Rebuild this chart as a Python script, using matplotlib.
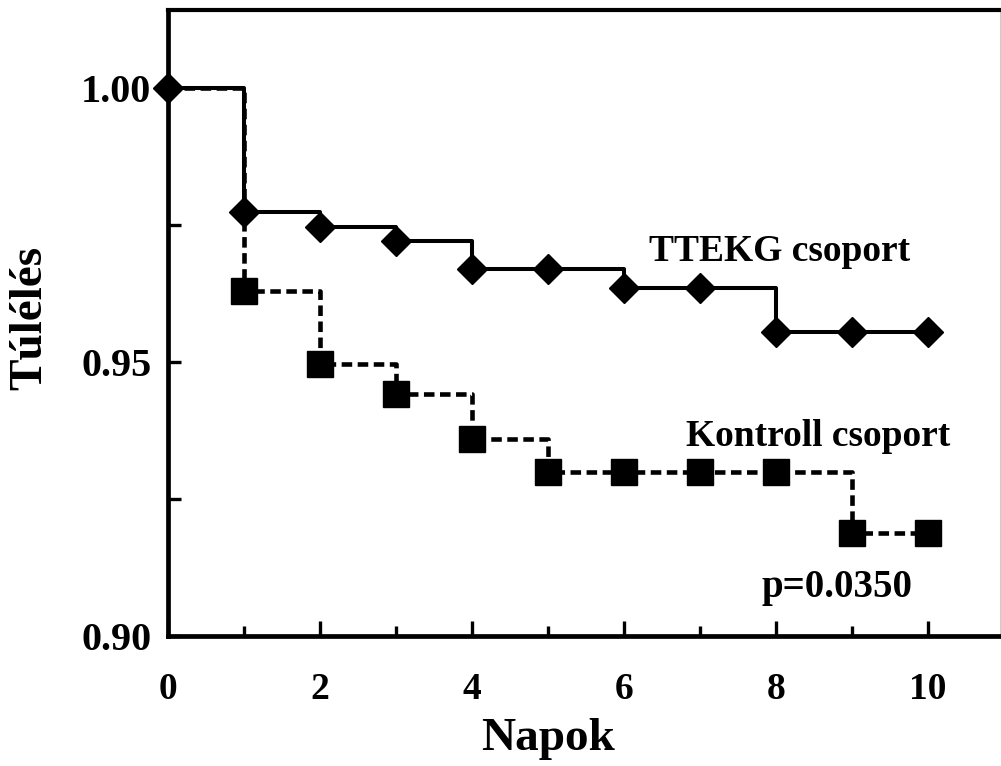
import matplotlib.pyplot as plt
from matplotlib.ticker import MultipleLocator

# Napok (days) and survival values
napok = [0, 1, 2, 3, 4, 5, 6, 7, 8, 9, 10]
ttekg = [1.000, 0.9774, 0.9746, 0.9721, 0.9670, 0.9670, 0.9635, 0.9635, 0.9555, 0.9555, 0.9555]
kontroll = [1.000, 0.9630, 0.9496, 0.9442, 0.9359, 0.9299, 0.9299, 0.9299, 0.9299, 0.9188, 0.9188]

x_ticks = [0, 2, 4, 6, 8, 10]
y_ticks = [0.90, 0.95, 1.00]
y_labels = ['0.90', '0.95', '1.00']

plt.rcParams['font.family'] = ['Liberation Serif', 'DejaVu Serif']
plt.rcParams['font.weight'] = 'bold'

fig = plt.figure(figsize=(10.01, 7.66), dpi=100)
ax = fig.add_axes([0.1678, 0.1697, 0.8312, 0.8172])

# Kontroll csoport (dashed, squares from day 1)
ax.step(napok, kontroll, where='post', color='black', lw=3.3, linestyle=(0, (2.3, 1.2)), zorder=2)
ax.plot(napok[1:], kontroll[1:], linestyle='none', marker='s', markersize=18.5,
        color='black', zorder=3)

# TTEKG csoport (solid, diamonds)
ax.step(napok, ttekg, where='post', color='black', lw=2.9, zorder=4)
ax.plot(napok, ttekg, linestyle='none', marker='D', markersize=15, color='black',
        zorder=5, clip_on=False)

ax.set_xlim(0, 10.947)
ax.set_ylim(0.90, 1.0142)

ax.set_xticks(x_ticks)
ax.xaxis.set_minor_locator(MultipleLocator(1))
ax.set_yticks(y_ticks)
ax.set_yticklabels(y_labels)
ax.yaxis.set_minor_locator(MultipleLocator(0.025))

ax.tick_params(axis='x', which='major', direction='in', length=11, width=2.4,
               labelsize=27, pad=26)
ax.tick_params(axis='x', which='minor', direction='in', length=7, width=2.4)
ax.tick_params(axis='y', which='both', direction='in', length=9, width=2.4,
               labelsize=29, pad=12)
ax.tick_params(top=False, right=False, which='both')
for lab in ax.get_xticklabels() + ax.get_yticklabels():
    lab.set_fontweight('bold')

ax.spines['left'].set_linewidth(3.4)
ax.spines['bottom'].set_linewidth(3.4)
ax.spines['top'].set_linewidth(3)
ax.spines['right'].set_linewidth(0.8)
ax.spines['right'].set_color('#cccccc')

ax.text(8.05, 0.9685, 'TTEKG csoport', fontsize=27, fontweight='bold',
        ha='center', va='baseline')
ax.text(8.55, 0.9347, 'Kontroll csoport', fontsize=27, fontweight='bold',
        ha='center', va='baseline')
ax.text(8.8, 0.9072, 'p=0.0350', fontsize=28, fontweight='bold',
        ha='center', va='baseline')

fig.text(0.548, 1 - 750 / 766, 'Napok', fontsize=34, fontweight='bold',
         ha='center', va='baseline')
fig.text(30 / 1001, 1 - 318 / 766, 'Túlélés', fontsize=34, fontweight='bold',
         ha='center', va='center', rotation=90)

fig.savefig('out.png', dpi=100)
